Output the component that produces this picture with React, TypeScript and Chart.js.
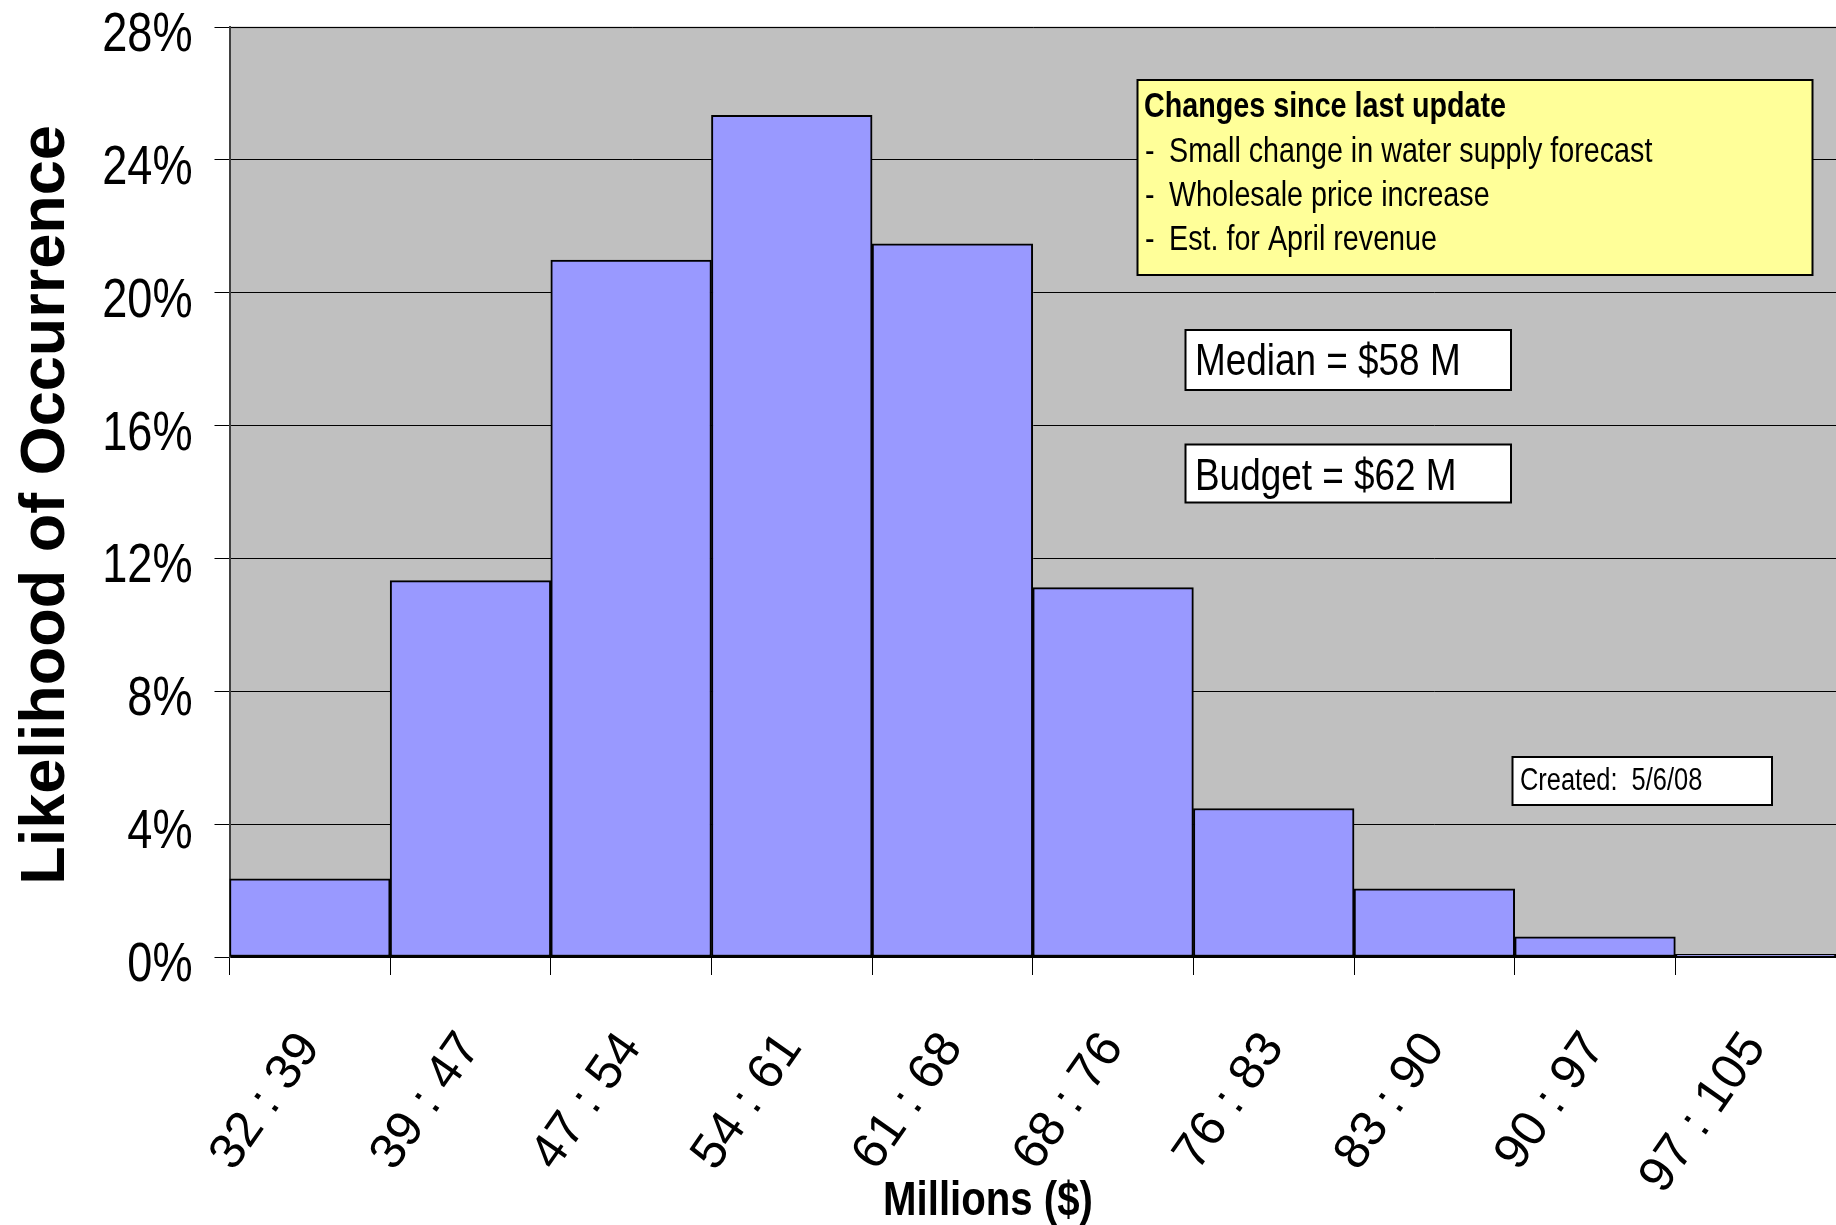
import { useEffect, useRef } from 'react';
import { Chart, registerables } from 'chart.js';

Chart.register(...registerables);

// Revenue bins (millions of dollars) and the likelihood of each, in percent
const binLabels = ['32 : 39', '39 : 47', '47 : 54', '54 : 61', '61 : 68', '68 : 76', '76 : 83', '83 : 90', '90 : 97', '97 : 105'];
const likelihoodPct = [2.35, 11.33, 20.98, 25.34, 21.47, 11.12, 4.47, 2.05, 0.61, 0.08];
const yTickValues = [0, 4, 8, 12, 16, 20, 24, 28];

const xTitle = 'Millions ($)';
const yTitle = 'Likelihood of Occurrence';
const notesHeading = 'Changes since last update';
const notesLines = ['Small change in water supply forecast', 'Wholesale price increase', 'Est. for April revenue'];
const medianText = 'Median = $58 M';
const budgetText = 'Budget = $62 M';
const createdText = 'Created:  5/6/08';

const REGULAR = "'Liberation Sans', Arial, sans-serif";

function fontInstalled(name: string): boolean {
  const ctx = document.createElement('canvas').getContext('2d');
  if (!ctx) return false;
  const sample = 'mmmmmmmmmmlli1WQ%$';
  ctx.font = '40px monospace';
  const a = ctx.measureText(sample).width;
  ctx.font = `40px '${name}', monospace`;
  const b = ctx.measureText(sample).width;
  return Math.abs(a - b) > 0.5;
}

const HAS_NARROW = typeof document !== 'undefined' && fontInstalled('Liberation Sans Narrow');
const NARROW = HAS_NARROW ? "'Liberation Sans Narrow', 'Liberation Sans', sans-serif" : REGULAR;

// Condensed text: real narrow face when present, otherwise a horizontally squeezed regular face
function narrowText(
  ctx: CanvasRenderingContext2D,
  text: string,
  x: number,
  y: number,
  size: number,
  bold = false,
  align: CanvasTextAlign = 'left'
) {
  ctx.save();
  ctx.fillStyle = '#000';
  ctx.textAlign = align;
  ctx.textBaseline = 'alphabetic';
  ctx.translate(x, y);
  if (!HAS_NARROW) ctx.scale(0.82, 1);
  ctx.font = `${bold ? 'bold ' : ''}${size}px ${NARROW}`;
  ctx.fillText(text, 0, 0);
  ctx.restore();
}

function box(ctx: CanvasRenderingContext2D, x: number, y: number, w: number, h: number, fill: string) {
  ctx.save();
  ctx.fillStyle = fill;
  ctx.fillRect(x, y, w, h);
  ctx.strokeStyle = '#000';
  ctx.lineWidth = 2;
  ctx.strokeRect(x, y, w, h);
  ctx.restore();
}

const plotBackground = {
  id: 'plotBackground',
  beforeDraw(chart: any) {
    const { ctx, chartArea: a } = chart;
    ctx.save();
    ctx.fillStyle = '#C0C0C0';
    ctx.fillRect(a.left, a.top, a.right - a.left, a.bottom - a.top);
    ctx.strokeStyle = '#808080';
    ctx.lineWidth = 1.5;
    ctx.beginPath();
    ctx.moveTo(a.left, a.top + 0.5);
    ctx.lineTo(a.right, a.top + 0.5);
    ctx.stroke();
    ctx.restore();
  },
};

const notesAndLabels = {
  id: 'notesAndLabels',
  afterDraw(chart: any) {
    const ctx: CanvasRenderingContext2D = chart.ctx;
    const yScale = chart.scales.y;

    // Percentage labels of the value axis, placed from the scale's own tick pixels
    yScale.ticks.forEach((t: any) => {
      const py = yScale.getPixelForValue(t.value);
      narrowText(ctx, `${t.value}%`, 192.5, py + 24, 55, false, 'right');
    });

    // Value axis title, rotated
    ctx.save();
    ctx.translate(64, (chart.chartArea.top + chart.chartArea.bottom) / 2 + 13);
    ctx.rotate(-Math.PI / 2);
    ctx.fillStyle = '#000';
    ctx.textAlign = 'center';
    ctx.textBaseline = 'alphabetic';
    ctx.font = `bold 63px ${REGULAR}`;
    ctx.fillText(yTitle, 0, 0);
    ctx.restore();

    // "Changes since last update" note
    box(ctx, 1137.5, 80, 675, 195, '#FFFF99');
    narrowText(ctx, notesHeading, 1144, 117, 35, true);
    notesLines.forEach((line, i) => {
      const baseY = 161.5 + i * 44;
      narrowText(ctx, '-', 1145, baseY, 35);
      narrowText(ctx, line, 1169, baseY, 35);
    });

    // Median / budget call-outs
    box(ctx, 1185.5, 330, 325.5, 60, '#FFFFFF');
    narrowText(ctx, medianText, 1195, 375, 45);
    box(ctx, 1185.5, 444.5, 325.5, 58, '#FFFFFF');
    narrowText(ctx, budgetText, 1195, 489.5, 45);

    // Creation date stamp
    box(ctx, 1512.5, 757, 259.5, 48, '#FFFFFF');
    narrowText(ctx, createdText, 1520, 790, 31);

    // Horizontal axis title
    narrowText(ctx, xTitle, 988, 1215, 49, true, 'center');
  },
};

export default function App() {
  const canvasRef = useRef<HTMLCanvasElement | null>(null);

  useEffect(() => {
    const canvas = canvasRef.current;
    if (!canvas) return;

    const chart = new Chart(canvas, {
      type: 'bar',
      data: {
        labels: binLabels,
        datasets: [
          {
            data: likelihoodPct,
            backgroundColor: '#9999FF',
            borderColor: '#000000',
            borderWidth: 2,
            borderSkipped: false,
            barPercentage: 1,
            categoryPercentage: 1,
          },
        ],
      },
      options: {
        responsive: false,
        animation: false,
        devicePixelRatio: 1,
        layout: { padding: { top: 27, left: 0, right: 0, bottom: 0 } },
        plugins: {
          legend: { display: false },
          tooltip: { enabled: false },
        },
        scales: {
          x: {
            type: 'category',
            offset: true,
            grid: {
              offset: true,
              drawOnChartArea: false,
              drawTicks: true,
              tickLength: 18,
              color: '#000000',
              lineWidth: 1,
            },
            border: { display: true, color: '#000000', width: 2 },
            ticks: {
              autoSkip: false,
              minRotation: 55,
              maxRotation: 55,
              padding: 47,
              color: '#000000',
              font: { family: REGULAR, size: 50 },
            },
            afterFit: (scale: any) => {
              scale.height = 268;
              scale.paddingLeft = 0;
              scale.paddingRight = 0;
            },
          },
          y: {
            min: 0,
            max: 28,
            afterBuildTicks: (scale: any) => {
              scale.ticks = yTickValues.map((value) => ({ value }));
            },
            ticks: { display: false },
            grid: { color: '#000000', lineWidth: 1, tickLength: 15 },
            border: { display: true, color: '#404040', width: 2 },
            afterFit: (scale: any) => {
              scale.width = 229.5;
              scale.paddingTop = 0;
              scale.paddingBottom = 0;
            },
          },
        },
      },
      plugins: [plotBackground, notesAndLabels],
    });

    return () => chart.destroy();
  }, []);

  return (
    <div style={{ position: 'absolute', left: 0, top: 0, width: 1836, height: 1225, background: '#FFFFFF' }}>
      <canvas ref={canvasRef} width={1836} height={1225} style={{ display: 'block' }} />
    </div>
  );
}
